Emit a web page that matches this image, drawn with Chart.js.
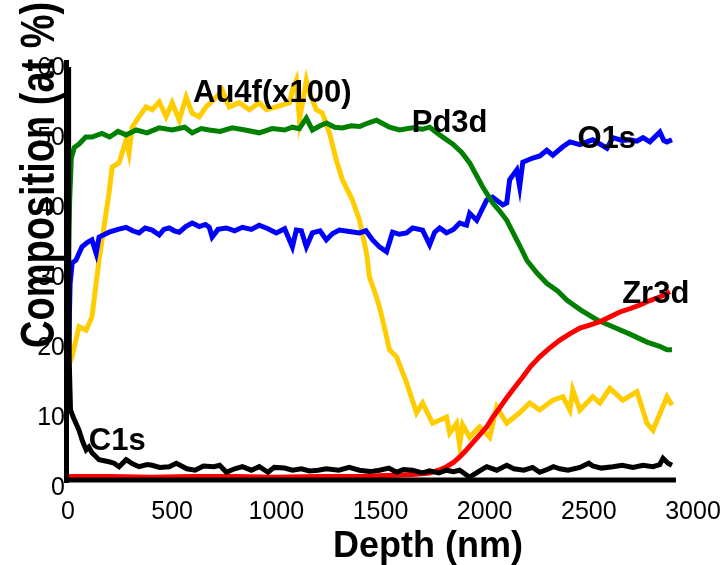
<!DOCTYPE html>
<html>
<head>
<meta charset="utf-8">
<title>Depth profile</title>
<script src="https://cdn.jsdelivr.net/npm/chart.js@4.4.0/dist/chart.umd.min.js"></script>
<style>
  body { margin: 0; background: #fff; }
  canvas { display: block; }
</style>
</head>
<body>
<canvas id="depthChart" width="724" height="565"></canvas>
<script>
// sputter depth (nm) and composition (at %) for each core level
const c1sDepth = [0, 3, 6, 12, 25, 53, 70, 87, 100, 115,
  149, 197, 221, 245, 279, 310, 341, 380, 404, 440,
  486, 520, 570, 610, 650, 700, 728, 760, 800, 837,
  880, 918, 960, 990, 1040, 1077, 1120, 1159, 1200, 1240,
  1300, 1350, 1399, 1450, 1495, 1540, 1577, 1610, 1654, 1700,
  1736, 1780, 1817, 1850, 1880, 1928, 1976, 2010, 2058, 2106,
  2140, 2188, 2230, 2264, 2300, 2330, 2361, 2400, 2457, 2500,
  2519, 2560, 2615, 2660, 2712, 2760, 2808, 2840, 2856, 2880,
  2899];
const c1sAt = [59, 35, 17, 10, 9, 7.1, 5.5, 4.3, 4.7, 3.9,
  2.9, 2.6, 2.4, 1.9, 2.9, 2.3, 1.9, 2.2, 2.1, 1.8,
  1.9, 2.4, 1.6, 1.4, 2.0, 1.9, 2.1, 1.1, 1.6, 1.9,
  1.4, 1.9, 1.1, 1.8, 1.7, 1.4, 1.6, 1.3, 1.4, 1.6,
  1.4, 1.8, 1.4, 1.2, 1.4, 1.7, 1.1, 1.5, 1.4, 1.0,
  1.3, 1.0, 1.4, 1.2, 1.4, 0.4, 1.3, 1.9, 1.4, 2.1,
  1.6, 1.4, 1.8, 1.1, 1.5, 1.9, 1.6, 1.4, 1.8, 2.4,
  2.0, 1.7, 1.9, 2.1, 1.8, 2.1, 1.9, 2.2, 3.1, 2.4,
  2.1];

const zrDepth = [0, 200, 400, 600, 800, 1000, 1200, 1400, 1495, 1600,
  1654, 1700, 1736, 1780, 1817, 1850, 1880, 1910, 1942, 1975,
  2010, 2040, 2072, 2100, 2135, 2183, 2220, 2264, 2310, 2361,
  2410, 2457, 2500, 2553, 2600, 2649, 2700, 2745, 2790, 2827,
  2860, 2889];
const zrAt = [0.5, 0.5, 0.4, 0.5, 0.5, 0.4, 0.5, 0.5, 0.6, 0.7,
  0.8, 0.9, 1, 1.4, 1.9, 2.5, 3.3, 4.2, 5.3, 6.4,
  7.6, 9, 10.3, 11.5, 12.9, 14.7, 16.2, 17.6, 18.8, 20,
  20.9, 21.7, 22.1, 22.6, 23.3, 24, 24.5, 25, 25.6, 26,
  26.4, 26.9];

const pdDepth = [0, 8, 16, 30, 53, 85, 115, 163, 200, 240,
  279, 327, 380, 437, 500, 560, 596, 640, 678, 730,
  788, 850, 918, 980, 1040, 1077, 1110, 1144, 1173, 1210,
  1240, 1280, 1317, 1360, 1400, 1440, 1481, 1543, 1591, 1654,
  1700, 1736, 1784, 1846, 1890, 1928, 1990, 2038, 2070, 2106,
  2168, 2202, 2250, 2298, 2350, 2394, 2460, 2538, 2615, 2700,
  2779, 2840, 2875, 2899];
const pdAt = [28, 40, 46, 47.5, 48, 49, 49, 49.5, 49, 49.8,
  49.3, 50, 49.6, 50.3, 50, 50.4, 49.6, 50.2, 50, 49.8,
  50.3, 50, 49.6, 50.2, 50, 50.4, 50.2, 51.7, 50, 50.6,
  51, 50.4, 50.3, 50.6, 50.5, 51, 51.4, 50.4, 50, 50.3,
  50.1, 50.4, 49.3, 48, 46.8, 45.3, 41.9, 39.6, 38.5, 37.1,
  33.5, 31.4, 29.6, 28.1, 27, 25.7, 24.3, 22.9, 21.9, 20.8,
  19.7, 19.1, 18.6, 18.6];

const o1sDepth = [0, 10, 20, 38, 67, 95, 115, 135, 149, 170,
  197, 240, 279, 310, 341, 370, 404, 438, 460, 486,
  510, 534, 565, 596, 630, 660, 678, 692, 720, 760,
  800, 837, 880, 918, 960, 1000, 1040, 1077, 1096, 1120,
  1144, 1173, 1210, 1240, 1270, 1303, 1350, 1399, 1430, 1462,
  1495, 1529, 1558, 1590, 1625, 1654, 1702, 1736, 1760, 1784,
  1817, 1850, 1880, 1913, 1928, 1962, 2010, 2038, 2087, 2106,
  2120, 2154, 2168, 2183, 2231, 2265, 2298, 2327, 2375, 2409,
  2457, 2490, 2519, 2587, 2615, 2660, 2697, 2730, 2760, 2793,
  2841, 2860, 2875, 2899];
const o1sAt = [14, 28, 31, 31.4, 33.3, 34, 34.3, 32.4, 34.7, 35,
  35.4, 35.8, 36.1, 35.6, 35.3, 36, 35.7, 35, 35.8, 36,
  35.6, 35.4, 36.2, 36.7, 36.2, 36.5, 36.1, 34.7, 35.8, 36,
  35.6, 36.1, 35.8, 36.4, 35.9, 35.3, 35.9, 33.3, 35.7, 35.6,
  33.3, 35.3, 35.6, 34.3, 35.2, 35.7, 35.5, 35.3, 35.6, 34.3,
  33.3, 32.6, 35.4, 35.1, 35.3, 36, 35.7, 33.6, 35.4, 36,
  35.3, 35.8, 36.7, 36.4, 38.1, 37.1, 40, 40.4, 39.3, 39.6,
  42.9, 44.3, 41.9, 45.4, 46, 46.3, 47.1, 46.4, 47.6, 48.3,
  47.9, 48.3, 48.6, 47.4, 48.9, 48.5, 48.6, 48.4, 48.9, 48.3,
  49.7, 48.5, 48.3, 48.6];

// Au 4f is plotted multiplied by 100
const auDepth = [0, 19, 53, 87, 115, 135, 149, 197, 212, 245,
  279, 293, 308, 341, 375, 404, 438, 471, 500, 534,
  567, 596, 630, 663, 712, 740, 774, 822, 870, 918,
  952, 1000, 1063, 1077, 1096, 1111, 1144, 1159, 1192, 1221,
  1255, 1288, 1317, 1365, 1399, 1433, 1447, 1481, 1495, 1510,
  1543, 1577, 1625, 1673, 1702, 1750, 1817, 1832, 1865, 1880,
  1894, 1928, 1976, 2024, 2058, 2106, 2168, 2216, 2264, 2327,
  2375, 2409, 2423, 2457, 2519, 2553, 2601, 2663, 2731, 2779,
  2808, 2875, 2899];
const auAt = [16, 17.6, 21.9, 21.4, 23.3, 28.1, 31.4, 41, 44.7, 45.3,
  48.6, 46.7, 50.4, 51.9, 53.3, 52.9, 54, 51.9, 53.9, 51.4,
  54.7, 52.4, 51.9, 53.3, 54.7, 55.7, 53.3, 53.9, 52.9, 53.9,
  52.9, 53.3, 53.9, 55.7, 57.1, 51.4, 57.1, 55.3, 52.9, 52.4,
  49.6, 45.7, 42.9, 40, 37.1, 32.4, 29, 26.1, 24.7, 22.9,
  18.6, 17.6, 13.9, 9.6, 11, 8.1, 9, 6.7, 8.1, 5,
  7.9, 6.1, 7.6, 6.1, 10.4, 8.1, 9.6, 11, 10, 11.4,
  11.9, 10, 12.9, 10, 11.9, 11, 13.1, 11.4, 12.6, 8.1,
  7.1, 11.9, 10.7];

const FONT = '"Liberation Sans", Arial, Helvetica, sans-serif';

function toPoints(depth, at) {
  return depth.map((d, i) => ({ x: d, y: at[i] }));
}

function series(label, depth, at, color) {
  return {
    label: label,
    data: toPoints(depth, at),
    borderColor: color,
    backgroundColor: color,
    borderWidth: 5,
    pointRadius: 0,
    tension: 0,
    fill: false
  };
}

// name tags written next to each curve, in data units
const tags = [
  { text: 'Au4f(x100)', x: 600, y: 54 },
  { text: 'Pd3d', x: 1650, y: 49.7 },
  { text: 'O1s', x: 2445, y: 47.4 },
  { text: 'Zr3d', x: 2660, y: 25.3 },
  { text: 'C1s', x: 100, y: 4.3 }
];

const profileDecor = {
  id: 'profileDecor',
  afterDatasetsDraw(chart) {
    const ctx = chart.ctx;
    const a = chart.chartArea;
    const x = chart.scales.x;
    const y = chart.scales.y;
    ctx.save();

    // thick axis lines, the bottom one stops short of the last tick
    ctx.strokeStyle = '#000';
    ctx.lineWidth = 5;
    ctx.lineCap = 'butt';
    ctx.beginPath();
    ctx.moveTo(a.left - 1.5, a.top);
    ctx.lineTo(a.left - 1.5, a.bottom + 3);
    ctx.moveTo(a.left - 4, a.bottom);
    ctx.lineTo(x.getPixelForValue(2918), a.bottom);
    ctx.stroke();

    ctx.fillStyle = '#000';
    ctx.font = 'bold 31px ' + FONT;
    ctx.textAlign = 'left';
    ctx.textBaseline = 'alphabetic';
    tags.forEach(t => {
      ctx.fillText(t.text, x.getPixelForValue(t.x), y.getPixelForValue(t.y));
    });

    // axis titles
    ctx.font = 'bold 36px ' + FONT;
    ctx.textAlign = 'center';
    ctx.fillText('Depth (nm)', 428, 557);

    // the vertical title is set tall and narrow: glyphs stretched across the text line
    ctx.font = 'bold 38px ' + FONT;
    ctx.translate(54, 348);
    ctx.rotate(-Math.PI / 2);
    ctx.scale(1, 1.25);
    ctx.textAlign = 'left';
    ctx.fillText('Composition (at %)', 0, 0);

    ctx.restore();
  }
};

const ctx = document.getElementById('depthChart').getContext('2d');
new Chart(ctx, {
  type: 'line',
  data: {
    datasets: [
      series('C1s', c1sDepth, c1sAt, '#000000'),
      series('Zr3d', zrDepth, zrAt, '#ff0000'),
      series('Pd3d', pdDepth, pdAt, '#008000'),
      series('O1s', o1sDepth, o1sAt, '#0000ff'),
      series('Au4f(x100)', auDepth, auAt, '#ffcc00')
    ]
  },
  options: {
    responsive: false,
    animation: false,
    layout: { padding: { left: 0, right: 31, top: 60, bottom: 0 } },
    plugins: {
      legend: { display: false },
      tooltip: { enabled: false }
    },
    scales: {
      x: {
        type: 'linear',
        min: 0,
        max: 3000,
        // invisible tick marks push the labels down without widening the side padding
        grid: { display: false, drawTicks: true, tickLength: 16, color: 'rgba(0,0,0,0)' },
        border: { display: false },
        ticks: {
          stepSize: 500,
          padding: 1,
          color: '#000',
          font: { family: FONT, size: 25 },
          maxRotation: 0,
          callback: v => String(v)
        },
        afterFit(scale) { scale.height = 85; }
      },
      y: {
        min: 0,
        max: 60,
        grid: { display: false, drawTicks: false },
        border: { display: false },
        ticks: {
          stepSize: 10,
          padding: 3,
          labelOffset: 8,
          color: '#000',
          font: { family: FONT, size: 25 }
        },
        afterFit(scale) { scale.width = 68; }
      }
    }
  },
  plugins: [profileDecor]
});
</script>
</body>
</html>
